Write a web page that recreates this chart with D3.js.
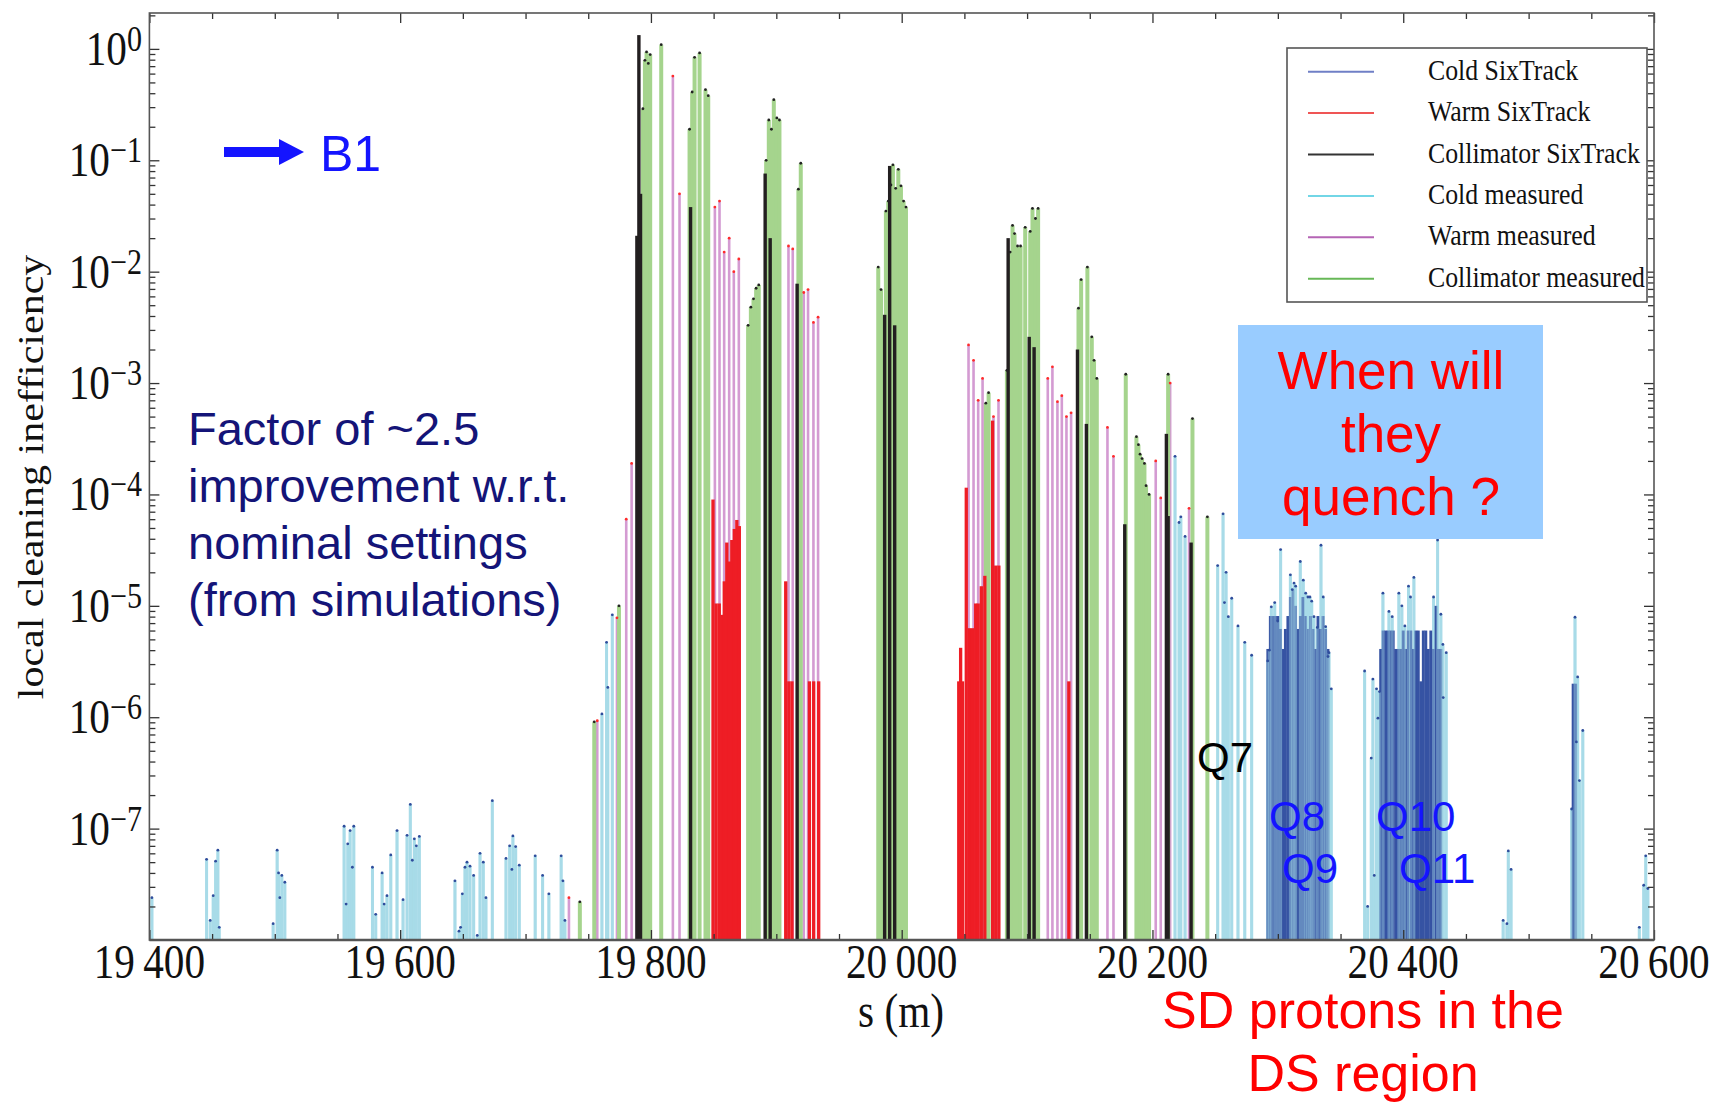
<!DOCTYPE html>
<html>
<head>
<meta charset="utf-8">
<script src="https://cdn.jsdelivr.net/npm/d3@7"></script>
<style>
  html, body { margin: 0; padding: 0; background: #fff; }
  svg { display: block; }
</style>
</head>
<body>
<div id="chart"></div>
<script>
// [s (m), local cleaning inefficiency]
const coldMeasured = [
  [19402, 2.4e-8],
  [19445.6, 5.3e-8], [19448.5, 1.5e-8], [19450.9, 2.5e-8], [19452.8, 5.1e-8], [19454.6, 6.4e-8], [19455.7, 1.3e-8],
  [19498.7, 1.4e-8], [19501.9, 6.4e-8], [19503, 4.0e-8], [19504, 2.4e-8], [19505.6, 3.8e-8], [19508, 3.3e-8],
  [19555.3, 1.05e-7], [19556.9, 2.1e-8], [19558.2, 7.3e-8], [19560.1, 9.6e-8], [19561.9, 4.5e-8], [19563, 1.05e-7],
  [19577.9, 4.5e-8], [19580.5, 1.7e-8], [19585.6, 4.0e-8], [19587.2, 2.1e-8], [19589.5, 2.5e-8], [19592.5, 5.8e-8],
  [19597.5, 9.6e-8], [19602.3, 2.3e-8], [19605.5, 8.7e-8], [19608.1, 1.65e-7], [19609.7, 5.2e-8], [19611.3, 8.1e-8],
  [19612.9, 7.0e-8], [19615.3, 8.5e-8],
  [19643.7, 3.4e-8], [19646.9, 1.2e-8], [19648.2, 1.3e-8], [19649.6, 2.6e-8], [19651.7, 4.5e-8], [19653.3, 5.0e-8],
  [19655.7, 4.6e-8], [19658.6, 3.8e-8], [19661.5, 1.1e-8], [19663.7, 6.0e-8], [19666.3, 5.0e-8], [19668.4, 2.4e-8],
  [19673.5, 1.78e-7], [19684.4, 5.4e-8], [19687.3, 7.0e-8], [19689.1, 4.3e-8], [19689.9, 8.6e-8], [19692.1, 6.9e-8],
  [19695, 4.7e-8], [19707.7, 5.7e-8], [19713.6, 3.8e-8], [19718.6, 2.6e-8], [19728.4, 5.7e-8], [19729.8, 3.4e-8],
  [19731.4, 1.5e-8],
  [19760.9, 1.07e-6], [19764.6, 4.7e-6], [19765.6, 1.85e-6], [19769.2, 8.3e-6],
  [20218, 2.2e-4], [20221.2, 5.6e-5], [20222.6, 6.3e-5], [20226, 4.2e-5],
  [20252, 2.3e-5], [20256.3, 6.7e-5], [20257.4, 1.07e-5], [20258.7, 2.0e-5], [20260.5, 8.0e-6], [20263.2, 1.17e-5],
  [20268.2, 6.6e-6], [20273.6, 4.7e-6], [20279.1, 3.6e-6],
  [20291.9, 3.2e-6], [20293.2, 4.0e-6], [20294.8, 9.8e-6], [20297.5, 1.07e-5], [20299.9, 7.3e-6], [20302.2, 3.2e-5],
  [20310, 1.9e-5], [20311.5, 1.4e-5], [20312.9, 1.6e-5], [20314.2, 1.5e-5], [20317.9, 2.5e-5], [20320.3, 1.7e-5],
  [20322.2, 1.3e-5], [20324, 1.2e-5], [20325.6, 1.2e-5], [20327, 1.1e-5], [20328.8, 8.0e-6], [20331.5, 6.4e-6],
  [20334.4, 3.5e-5], [20336.2, 1.2e-5], [20338.1, 6.5e-6], [20340, 3.5e-6], [20340.8, 3.8e-6], [20342.6, 1.8e-6],
  [20369.2, 2.6e-6], [20371.6, 2.0e-8], [20374.5, 4.3e-7], [20375.8, 2.2e-6], [20376.9, 3.8e-8], [20378.7, 1.8e-6],
  [20379.8, 9.8e-7], [20381.1, 1.7e-6], [20383.8, 1.3e-5], [20388.6, 8.9e-6], [20391.2, 8.0e-6], [20396.5, 1.3e-5],
  [20398.9, 1.0e-5], [20401.3, 6.6e-6], [20404.2, 1.5e-5], [20405.8, 1.2e-5], [20408.5, 1.8e-5], [20424.2, 1.2e-5],
  [20427.4, 3.9e-5], [20430, 8.4e-6], [20431.6, 4.5e-6], [20431.9, 1.5e-6], [20434.3, 3.8e-6],
  [20479.7, 1.5e-8], [20482.7, 1.4e-8], [20483.8, 6.3e-8], [20486, 4.3e-8],
  [20534.3, 1.5e-7], [20537, 7.9e-6], [20538.1, 6.0e-7], [20539.1, 2.3e-6], [20540.5, 2.7e-7], [20543.2, 7.6e-7],
  [20588.3, 1.3e-8], [20591.8, 3.1e-8], [20593.4, 5.7e-8], [20595.1, 2.9e-8]
];

const warmMeasured = [
  [19734.6, 2.4e-8], [19757.2, 9.3e-7], [19772.9, 7.8e-6], [19780.3, 6.0e-5], [19784.6, 1.9e-4],
  [19817.5, 0.57], [19822.8, 0.05],
  [19851, 0.038], [19854.7, 0.043], [19858.4, 0.015], [19862.4, 0.020], [19866.1, 0.010], [19870.1, 0.013],
  [19909.7, 0.017], [19913.1, 0.016], [19921.9, 0.0065], [19925.3, 0.0069], [19929.6, 0.0035], [19933.3, 0.0039],
  [20053.3, 0.0022], [20057.3, 0.0016], [20061, 7.0e-4], [20064.5, 0.0011], [20073.2, 5.0e-4], [20077.2, 7.0e-4],
  [20116.5, 0.0011], [20120.2, 0.0014], [20124.2, 6.8e-4], [20127.7, 7.7e-4], [20131.4, 5.0e-4], [20135.1, 5.4e-4],
  [20164.1, 4.0e-4], [20168.9, 2.2e-4], [20202.6, 2.0e-4], [20206.6, 9.3e-5], [20214.1, 0.0010], [20229.2, 7.5e-5]
];

const collMeasured = [
  [19743.3, 2.2e-8], [19754.8, 9.1e-7], [19774.5, 1.0e-5],
  [19793.6, 0.29], [19795.2, 0.79], [19796.5, 0.94], [19797.9, 0.74], [19799.4, 0.89], [19808.2, 1.09],
  [19830.8, 0.19], [19832.9, 0.41], [19834.8, 0.84], [19838.8, 0.92], [19843.5, 0.43], [19845.7, 0.38],
  [19877.5, 0.0033], [19879.7, 0.0048], [19881.8, 0.0057], [19883.9, 0.0071], [19886, 0.0076],
  [19891.9, 0.10], [19894, 0.23], [19896.1, 0.19], [19898, 0.35], [19900.4, 0.24], [19902.5, 0.23],
  [19917.6, 0.055], [19919.5, 0.094],
  [19981.3, 0.011], [19983.5, 0.0069], [19987.4, 0.035], [19989.3, 0.043], [19991.4, 0.060], [19993, 0.091],
  [19995.2, 0.056], [19997.3, 0.083], [19999.4, 0.059], [20001.5, 0.043], [20003.4, 0.038],
  [20067.1, 6.6e-4], [20069.3, 8.2e-4],
  [20083.9, 0.0013], [20086.5, 0.015], [20088.4, 0.026], [20090, 0.022], [20092.4, 0.017], [20094.8, 0.017],
  [20098.5, 0.025], [20102.5, 0.023], [20104.3, 0.037], [20106.7, 0.030], [20108.8, 0.037],
  [20141, 0.0047], [20143.1, 0.0085], [20148.1, 0.011], [20151.6, 0.0026], [20153.4, 0.0016], [20155.6, 0.0011],
  [20178.7, 0.0012], [20187.2, 3.3e-4], [20188.8, 2.8e-4], [20190.1, 2.3e-4], [20191.7, 2.1e-4], [20193.6, 1.9e-4],
  [20194.9, 1.2e-4], [20197.3, 1.0e-4], [20212.5, 0.0012], [20231.9, 4.8e-4], [20243.8, 6.3e-5]
];

const coldSixTrack = [
  [20292, 4.1e-6], [20294, 8.1e-6], [20296, 8.1e-6], [20298, 8.1e-6], [20300, 8.1e-6], [20302, 6.2e-6],
  [20304, 4.1e-6], [20306, 6.2e-6], [20308, 8.1e-6], [20310, 1.2e-5], [20312, 1.4e-5], [20314, 1.0e-5],
  [20316, 6.2e-6], [20318, 8.1e-6], [20320, 1.2e-5], [20322, 8.1e-6], [20324, 6.2e-6], [20326, 8.1e-6],
  [20328, 6.2e-6], [20330, 4.1e-6], [20332, 8.1e-6], [20334, 6.2e-6], [20336, 8.1e-6], [20338, 6.2e-6],
  [20340, 4.1e-6],
  [20382, 4.1e-6], [20384, 6.0e-6], [20386, 6.0e-6], [20388, 6.0e-6], [20390, 6.0e-6], [20392, 6.0e-6],
  [20394, 4.1e-6], [20396, 4.1e-6], [20398, 4.1e-6], [20400, 6.0e-6], [20402, 4.1e-6], [20404, 6.0e-6],
  [20406, 6.0e-6], [20408, 4.1e-6], [20410, 6.0e-6], [20412, 6.0e-6], [20414, 2.1e-6], [20416, 6.0e-6],
  [20418, 6.0e-6], [20420, 4.1e-6], [20422, 6.0e-6], [20424, 4.1e-6], [20426, 1.0e-5], [20428, 4.1e-6],
  [20430, 4.1e-6],
  [20535.5, 2.0e-6], [20537.5, 2.0e-6]
];

const warmSixTrack = [
  [19849.5, 9.0e-5], [19852, 1.05e-5], [19854.5, 1.05e-5], [19856.5, 8.3e-6], [19858.5, 1.66e-5],
  [19860.5, 3.7e-5], [19862.5, 2.5e-5], [19864.5, 3.9e-5], [19866.5, 4.9e-5], [19868.5, 5.9e-5], [19870.5, 5.2e-5],
  [19907.5, 1.66e-5], [19910, 2.1e-6], [19912.5, 2.1e-6], [19926.4, 2.1e-6], [19929.8, 2.1e-6], [19933.8, 2.1e-6],
  [20045.5, 2.1e-6], [20047, 4.2e-6], [20048.5, 2.1e-6], [20051.5, 1.15e-4], [20054, 6.3e-6], [20056.5, 6.3e-6],
  [20059, 1.05e-5], [20061, 1.05e-5], [20063.5, 1.5e-5], [20066.3, 1.86e-5], [20072.5, 4.6e-4], [20075, 2.3e-5],
  [20077.5, 2.3e-5], [20133.3, 2.1e-6]
];

const collSixTrack = [
  [19788.8, 0.021], [19790.4, 1.33], [19791.7, 0.05], [19831.6, 0.038], [19891.1, 0.076], [19895.1, 0.020],
  [19916.6, 0.0078], [19986.4, 0.0041], [19990.4, 0.089], [19994.4, 0.0033], [20084.9, 0.020], [20101.7, 0.0026],
  [20105.6, 0.0021], [20140.2, 0.0020], [20147.3, 4.3e-4], [20177.9, 5.4e-5], [20211.1, 3.5e-4],
  [20212.5, 6.4e-5], [20230.8, 3.7e-5]
];

const xTicks = [19400, 19600, 19800, 20000, 20200, 20400, 20600];
const xTickLabels = ["19\u2009400", "19\u2009600", "19\u2009800", "20\u2009000", "20\u2009200", "20\u2009400", "20\u2009600"];
const yExponents = [-7, -6, -5, -4, -3, -2, -1, 0];

const legendItems = [
  { label: "Cold SixTrack", color: "#6f7fc6" },
  { label: "Warm SixTrack", color: "#ef5555" },
  { label: "Collimator SixTrack", color: "#333333" },
  { label: "Cold measured", color: "#72d6e6" },
  { label: "Warm measured", color: "#b564b5" },
  { label: "Collimator measured", color: "#67b857" },
];

const W = 1710, H = 1103;
const M = { left: 149.4, right: 1654, top: 13, bottom: 940 };
const SERIF = "'Liberation Serif', 'Times New Roman', serif";
const SANS = "'Liberation Sans', Arial, sans-serif";
const SQUEEZE = 0.86;

const svg = d3.select("#chart").append("svg").attr("width", W).attr("height", H);

const x = d3.scaleLinear().domain([19400, 20600]).range([M.left, M.right]);
const y = d3.scaleLog().domain([1e-8, 2.1]).range([M.bottom, M.top]);

svg.append("defs").append("clipPath").attr("id", "plotclip")
  .append("rect").attr("x", M.left).attr("y", M.top)
  .attr("width", M.right - M.left).attr("height", M.bottom - M.top);

const plotG = svg.append("g").attr("clip-path", "url(#plotclip)");

function drawBars(data, width, color, opacity) {
  plotG.append("g").selectAll("rect")
    .data(data)
    .join("rect")
    .attr("x", (d) => x(d[0]) - width / 2)
    .attr("width", width)
    .attr("y", (d) => y(d[1]))
    .attr("height", (d) => M.bottom - y(d[1]))
    .attr("fill", color)
    .attr("opacity", opacity);
}

function drawDots(data, color) {
  plotG.append("g").selectAll("circle")
    .data(data)
    .join("circle")
    .attr("cx", (d) => x(d[0]))
    .attr("cy", (d) => y(d[1]))
    .attr("r", 1.4)
    .attr("fill", color);
}

// measured first, SixTrack on top
drawBars(coldMeasured, 3, "#a8dbe8", 1);
drawBars(warmMeasured, 2.6, "#d49bd2", 1);
drawBars(collMeasured, 4, "#a5d48d", 1);
drawBars(warmSixTrack, 3.3, "#ee1d25", 1);
drawBars(collSixTrack, 3.4, "#231f20", 1);
drawBars(coldSixTrack, 2.9, "#3653a3", 1);
// light cold-measured tint over the SixTrack blue (mixes to mid blue)
drawBars(coldMeasured, 3, "#a8dbe8", 0.4);

drawDots(coldMeasured, "#2f4d9c");
drawDots(warmMeasured, "#ff2b2b");
drawDots(collMeasured, "#222");

// Axes: inward ticks on all four sides
const xMinor = d3.range(19400, 20601, 50).filter((v) => !xTicks.includes(v));
const yMajor = yExponents.map((e) => Math.pow(10, e));
const yMinor = [];
d3.range(-8, 1).forEach((e) => {
  d3.range(2, 10).forEach((m) => {
    const v = m * Math.pow(10, e);
    if (v <= 2.1) yMinor.push(v);
  });
});

function axis(gen, values, size, transform) {
  const g = svg.append("g").attr("transform", transform)
    .call(gen.tickValues(values).tickSize(size).tickSizeOuter(0).tickFormat(""));
  g.select(".domain").remove();
  g.selectAll(".tick line").attr("stroke", "#333").attr("stroke-width", 1.3);
  return g;
}

axis(d3.axisBottom(x), xTicks, -10, `translate(0,${M.bottom})`);
axis(d3.axisBottom(x), xMinor, -6, `translate(0,${M.bottom})`);
axis(d3.axisTop(x), xTicks, -10, `translate(0,${M.top})`);
axis(d3.axisTop(x), xMinor, -6, `translate(0,${M.top})`);
axis(d3.axisLeft(y), yMajor, -10, `translate(${M.left},0)`);
axis(d3.axisLeft(y), yMinor, -6, `translate(${M.left},0)`);
axis(d3.axisRight(y), yMajor, -10, `translate(${M.right},0)`);
axis(d3.axisRight(y), yMinor, -6, `translate(${M.right},0)`);

// frame
svg.append("rect")
  .attr("x", M.left).attr("y", M.top)
  .attr("width", M.right - M.left).attr("height", M.bottom - M.top)
  .attr("fill", "none").attr("stroke", "#555").attr("stroke-width", 1.6);
svg.append("line")
  .attr("x1", M.left).attr("x2", M.right).attr("y1", M.bottom).attr("y2", M.bottom)
  .attr("stroke", "#555").attr("stroke-width", 2.4);

// x tick labels
xTicks.forEach((v, i) => {
  svg.append("g")
    .attr("transform", `translate(${x(v)},978) scale(${SQUEEZE},1)`)
    .append("text")
    .attr("text-anchor", "middle")
    .attr("font-family", SERIF).attr("font-size", 48).attr("fill", "#111")
    .text(xTickLabels[i]);
});

// y tick labels 10^n
yExponents.forEach((e) => {
  const t = svg.append("g")
    .attr("transform", `translate(142,${y(Math.pow(10, e)) + 16}) scale(${SQUEEZE},1)`)
    .append("text")
    .attr("text-anchor", "end")
    .attr("font-family", SERIF).attr("font-size", 48).attr("fill", "#111");
  t.append("tspan").text("10");
  t.append("tspan").attr("font-size", 35).attr("dy", -14)
    .text(e === 0 ? "0" : "\u2212" + Math.abs(e));
});

// axis labels
svg.append("g")
  .attr("transform", `translate(43,477) rotate(-90) scale(1,${SQUEEZE})`)
  .append("text")
  .attr("text-anchor", "middle")
  .attr("font-family", SERIF).attr("font-size", 42).attr("fill", "#111")
  .text("local cleaning inefficiency");

svg.append("g")
  .attr("transform", `translate(901,1027) scale(${SQUEEZE},1)`)
  .append("text")
  .attr("text-anchor", "middle")
  .attr("font-family", SERIF).attr("font-size", 48).attr("fill", "#111")
  .text("s (m)");

// legend
const legendG = svg.append("g");
legendG.append("rect")
  .attr("x", 1287).attr("y", 48).attr("width", 360).attr("height", 254)
  .attr("fill", "#fff").attr("stroke", "#555").attr("stroke-width", 1.6);
legendItems.forEach((item, i) => {
  const ly = 71.7 + i * 41.4;
  legendG.append("line")
    .attr("x1", 1308).attr("x2", 1374).attr("y1", ly).attr("y2", ly)
    .attr("stroke", item.color).attr("stroke-width", 2);
  legendG.append("g")
    .attr("transform", `translate(1428,${ly + 8}) scale(${SQUEEZE},1)`)
    .append("text")
    .attr("font-family", SERIF).attr("font-size", 30).attr("fill", "#111")
    .text(item.label);
});

// annotations
const BLUE = "#1414ff";
svg.append("rect").attr("x", 224).attr("y", 147).attr("width", 57).attr("height", 10).attr("fill", BLUE);
svg.append("path").attr("d", "M279,139 L304,152 L279,165 Z").attr("fill", BLUE);
svg.append("text").attr("x", 320).attr("y", 171)
  .attr("font-family", SANS).attr("font-size", 50).attr("fill", BLUE).text("B1");

const noteLines = ["Factor of ~2.5", "improvement w.r.t.", "nominal settings", "(from simulations)"];
noteLines.forEach((line, i) => {
  svg.append("text").attr("x", 188).attr("y", 445 + i * 57)
    .attr("font-family", SANS).attr("font-size", 47).attr("fill", "#141478").text(line);
});

svg.append("rect").attr("x", 1238).attr("y", 325).attr("width", 305).attr("height", 214).attr("fill", "#99ccff");
["When will", "they", "quench ?"].forEach((line, i) => {
  svg.append("text").attr("x", 1391).attr("y", 389 + i * 63)
    .attr("text-anchor", "middle")
    .attr("font-family", SANS).attr("font-size", 53).attr("fill", "#ff0000").text(line);
});

["SD protons in the", "DS region"].forEach((line, i) => {
  svg.append("text").attr("x", 1363).attr("y", 1028 + i * 63)
    .attr("text-anchor", "middle")
    .attr("font-family", SANS).attr("font-size", 52).attr("fill", "#ff0000").text(line);
});

const qLabels = [
  { t: "Q7", x: 1197, y: 772, c: "#000" },
  { t: "Q8", x: 1269, y: 831, c: BLUE },
  { t: "Q9", x: 1282, y: 883, c: BLUE },
  { t: "Q10", x: 1376, y: 831, c: BLUE },
  { t: "Q11", x: 1399, y: 883, c: BLUE },
];
qLabels.forEach((q) => {
  svg.append("text").attr("x", q.x).attr("y", q.y)
    .attr("font-family", SANS).attr("font-size", 42).attr("fill", q.c).text(q.t);
});
</script>
</body>
</html>
